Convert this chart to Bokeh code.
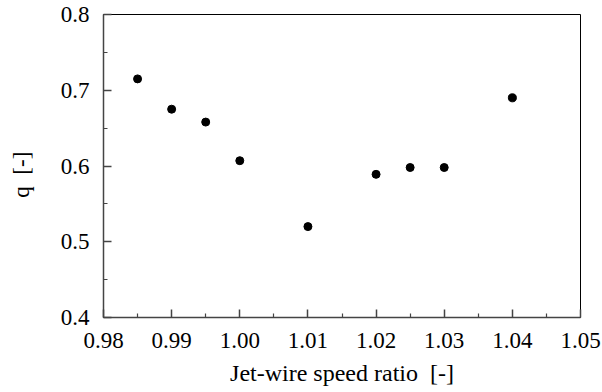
from bokeh.plotting import figure
from bokeh.models import Range1d, FixedTicker, PrintfTickFormatter
from bokeh.embed import file_html
from bokeh.resources import INLINE

speed_ratio = [0.985, 0.990, 0.995, 1.000, 1.010, 1.020, 1.025, 1.030, 1.040]
q_values = [0.715, 0.675, 0.658, 0.607, 0.520, 0.589, 0.598, 0.598, 0.690]
x_ticks = [0.98, 0.99, 1.00, 1.01, 1.02, 1.03, 1.04, 1.05]
x_minor = [0.985, 0.995, 1.005, 1.015, 1.025, 1.035, 1.045]
y_ticks = [0.4, 0.5, 0.6, 0.7, 0.8]
y_minor = [0.45, 0.55, 0.65, 0.75]

FONT = "Liberation Serif"

p = figure(width=602, height=392, output_backend="svg", toolbar_location=None,
           x_range=Range1d(0.98, 1.05), y_range=Range1d(0.4, 0.8),
           min_border_left=103, min_border_right=22, min_border_top=14, min_border_bottom=75)
p.grid.visible = False
p.outline_line_color = "black"
p.outline_line_width = 1
p.background_fill_color = "white"
p.border_fill_color = "white"

p.scatter(speed_ratio, q_values, size=8, color="black")

for ax, ticks, minor in ((p.xaxis[0], x_ticks, x_minor), (p.yaxis[0], y_ticks, y_minor)):
    ax.ticker = FixedTicker(ticks=ticks, minor_ticks=minor)
    ax.major_tick_in = 8
    ax.major_tick_out = 0
    ax.minor_tick_in = 4
    ax.minor_tick_out = 0
    ax.axis_line_color = "#444444"
    ax.axis_line_width = 1.5
    ax.major_tick_line_color = "#444444"
    ax.minor_tick_line_color = "#444444"
    ax.major_tick_line_width = 1.5
    ax.minor_tick_line_width = 1.2
    ax.major_label_text_font = FONT
    ax.major_label_text_font_size = "23px"
    ax.major_label_text_color = "black"
    ax.axis_label_text_font = FONT
    ax.axis_label_text_font_style = "normal"
    ax.axis_label_text_color = "black"

p.xaxis[0].formatter = PrintfTickFormatter(format="%.2f")
p.yaxis[0].formatter = PrintfTickFormatter(format="%.1f")
p.xaxis[0].major_label_standoff = 15
p.yaxis[0].major_label_standoff = 14

p.xaxis[0].axis_label = "Jet-wire speed ratio\u00a0\u00a0[-]"
p.xaxis[0].axis_label_text_font_size = "24px"
p.xaxis[0].axis_label_standoff = 9

p.yaxis[0].axis_label = "q\u00a0\u00a0[-]\u00a0\u00a0\u00a0"
p.yaxis[0].axis_label_text_font_size = "23px"
p.yaxis[0].axis_label_standoff = 24

open("out.html", "w").write(file_html(p, INLINE))
